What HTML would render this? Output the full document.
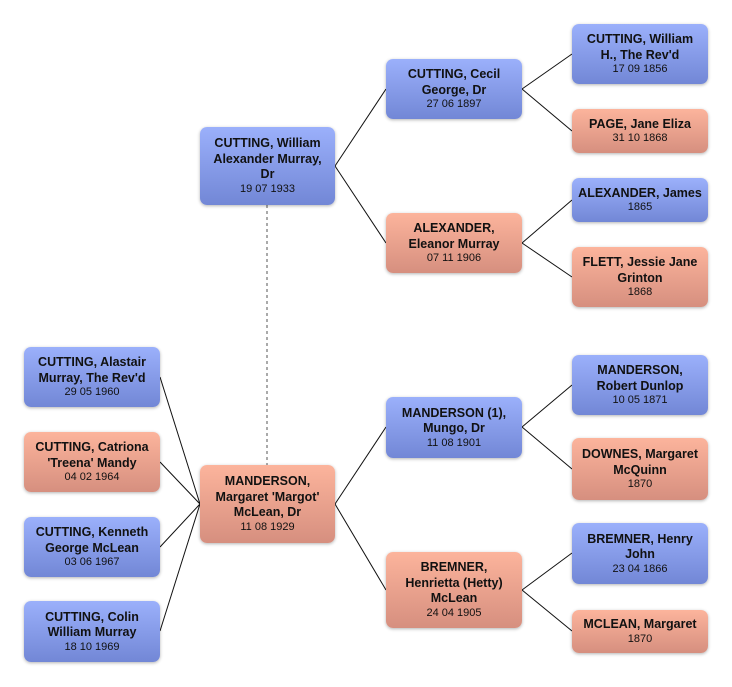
<!DOCTYPE html>
<html><head><meta charset="utf-8"><style>
body{margin:0;width:732px;height:687px;background:#fff;position:relative;overflow:hidden;font-family:"Liberation Sans",sans-serif}
.b{position:absolute;width:136px;border-radius:7px;display:flex;flex-direction:column;justify-content:center;align-items:center;text-align:center;box-shadow:0 1px 3px rgba(0,0,0,.3);color:#111;box-sizing:border-box;padding:0 2px;white-space:nowrap}
.m{background:linear-gradient(#9bb0fb,#7287d6)}
.f{background:linear-gradient(#fcb49c,#d68f7f)}
.n{font-weight:bold;font-size:12.5px;line-height:15.5px}
.d{font-size:11px;line-height:13px}
svg{position:absolute;left:0;top:0}
</style></head><body>
<svg width="732" height="687">
<g stroke="#111" stroke-width="1" fill="none">
<path d="M335 166L386 89M335 166L386 243M335 504L386 427M335 504L386 590"/>
<path d="M522 89L572 54M522 89L572 131M522 243L572 200M522 243L572 277M522 427L572 385M522 427L572 469M522 590L572 553M522 590L572 631"/>
<path d="M200 504L160 377M200 504L160 462M200 504L160 547M200 504L160 631"/>
<path d="M267 205V465" stroke="#555" stroke-dasharray="3,3"/>
</g></svg>
<div class="b m" style="left:200px;top:127px;width:135px;height:78px"><div class="n">CUTTING, William<br>Alexander Murray,<br>Dr</div><div class="d">19 07 1933</div></div>
<div class="b f" style="left:200px;top:465px;width:135px;height:78px"><div class="n">MANDERSON,<br>Margaret 'Margot'<br>McLean, Dr</div><div class="d">11 08 1929</div></div>
<div class="b m" style="left:386px;top:59px;height:60px"><div class="n">CUTTING, Cecil<br>George, Dr</div><div class="d">27 06 1897</div></div>
<div class="b f" style="left:386px;top:213px;height:60px"><div class="n">ALEXANDER,<br>Eleanor Murray</div><div class="d">07 11 1906</div></div>
<div class="b m" style="left:386px;top:397px;height:61px"><div class="n">MANDERSON (1),<br>Mungo, Dr</div><div class="d">11 08 1901</div></div>
<div class="b f" style="left:386px;top:552px;height:76px"><div class="n">BREMNER,<br>Henrietta (Hetty)<br>McLean</div><div class="d">24 04 1905</div></div>
<div class="b m" style="left:572px;top:24px;height:60px"><div class="n">CUTTING, William<br>H., The Rev'd</div><div class="d">17 09 1856</div></div>
<div class="b f" style="left:572px;top:109px;height:44px"><div class="n">PAGE, Jane Eliza</div><div class="d">31 10 1868</div></div>
<div class="b m" style="left:572px;top:178px;height:44px"><div class="n">ALEXANDER, James</div><div class="d">1865</div></div>
<div class="b f" style="left:572px;top:247px;height:60px"><div class="n">FLETT, Jessie Jane<br>Grinton</div><div class="d">1868</div></div>
<div class="b m" style="left:572px;top:355px;height:60px"><div class="n">MANDERSON,<br>Robert Dunlop</div><div class="d">10 05 1871</div></div>
<div class="b f" style="left:572px;top:438px;height:62px"><div class="n">DOWNES, Margaret<br>McQuinn</div><div class="d">1870</div></div>
<div class="b m" style="left:572px;top:523px;height:61px"><div class="n">BREMNER, Henry<br>John</div><div class="d">23 04 1866</div></div>
<div class="b f" style="left:572px;top:610px;height:43px"><div class="n">MCLEAN, Margaret</div><div class="d">1870</div></div>
<div class="b m" style="left:24px;top:347px;height:60px"><div class="n">CUTTING, Alastair<br>Murray, The Rev'd</div><div class="d">29 05 1960</div></div>
<div class="b f" style="left:24px;top:432px;height:60px"><div class="n">CUTTING, Catriona<br>'Treena' Mandy</div><div class="d">04 02 1964</div></div>
<div class="b m" style="left:24px;top:517px;height:60px"><div class="n">CUTTING, Kenneth<br>George McLean</div><div class="d">03 06 1967</div></div>
<div class="b m" style="left:24px;top:601px;height:61px"><div class="n">CUTTING, Colin<br>William Murray</div><div class="d">18 10 1969</div></div>
</body></html>
